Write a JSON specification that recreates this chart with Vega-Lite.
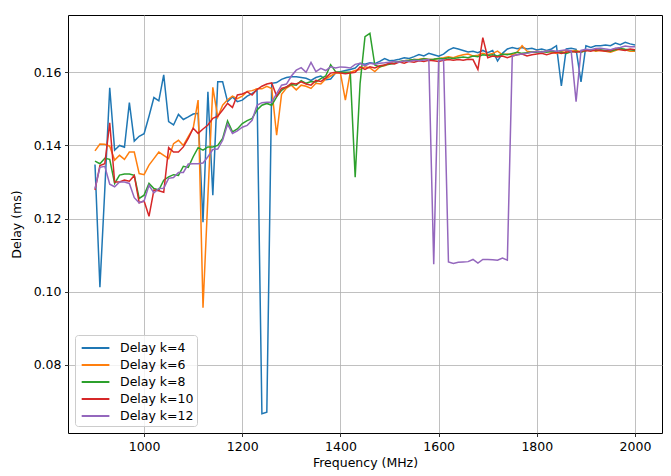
{
"$schema": "https://vega.github.io/schema/vega-lite/v6.json",
"width": 594, "height": 418,
"autosize": {"type": "none"},
"padding": {"left": 68, "top": 15, "right": 9, "bottom": 43},
"background": "white",
"config": {
  "font": "DejaVu Sans",
  "view": {"stroke": "#000000", "strokeWidth": 1},
  "axis": {"domain": false, "grid": true, "gridColor": "#b0b0b0", "gridWidth": 0.8, "tickColor": "#000000", "tickSize": 3.5, "tickWidth": 0.8, "labelPadding": 3.5, "labelFont": "DejaVu Sans", "labelFontSize": 12.5, "labelColor": "#000000", "titleFont": "DejaVu Sans", "titleFontSize": 12.5, "titleFontWeight": "normal", "titleColor": "#000000"},
  "legend": {"orient": "bottom-left", "offset": 7, "padding": 3, "strokeColor": "#cccccc", "fillColor": "rgba(255,255,255,0.8)", "cornerRadius": 3, "symbolType": "M-0.73,0L2.47,0", "symbolStrokeWidth": 2, "symbolSize": 300, "symbolFillColor": "transparent", "labelFont": "DejaVu Sans", "labelFontSize": 12.5, "labelColor": "#000000", "rowPadding": 0, "labelOffset": 22}
},
"datasets": {"d": [
{"f":900,"k":"Delay k=4","d":0.1348},{"f":910,"k":"Delay k=4","d":0.1012},{"f":920,"k":"Delay k=4","d":0.128},{"f":930,"k":"Delay k=4","d":0.1558},{"f":940,"k":"Delay k=4","d":0.1387},{"f":950,"k":"Delay k=4","d":0.14},{"f":960,"k":"Delay k=4","d":0.1395},{"f":970,"k":"Delay k=4","d":0.1517},{"f":980,"k":"Delay k=4","d":0.1412},{"f":990,"k":"Delay k=4","d":0.1425},{"f":1000,"k":"Delay k=4","d":0.1432},{"f":1010,"k":"Delay k=4","d":0.148},{"f":1020,"k":"Delay k=4","d":0.1531},{"f":1030,"k":"Delay k=4","d":0.1522},{"f":1040,"k":"Delay k=4","d":0.1593},{"f":1050,"k":"Delay k=4","d":0.1465},{"f":1060,"k":"Delay k=4","d":0.1456},{"f":1070,"k":"Delay k=4","d":0.1485},{"f":1080,"k":"Delay k=4","d":0.1471},{"f":1090,"k":"Delay k=4","d":0.1478},{"f":1100,"k":"Delay k=4","d":0.1486},{"f":1110,"k":"Delay k=4","d":0.1488},{"f":1120,"k":"Delay k=4","d":0.119},{"f":1130,"k":"Delay k=4","d":0.1547},{"f":1140,"k":"Delay k=4","d":0.1264},{"f":1150,"k":"Delay k=4","d":0.1574},{"f":1160,"k":"Delay k=4","d":0.1574},{"f":1170,"k":"Delay k=4","d":0.152},{"f":1180,"k":"Delay k=4","d":0.1533},{"f":1190,"k":"Delay k=4","d":0.152},{"f":1200,"k":"Delay k=4","d":0.1524},{"f":1210,"k":"Delay k=4","d":0.1535},{"f":1220,"k":"Delay k=4","d":0.1542},{"f":1230,"k":"Delay k=4","d":0.1552},{"f":1240,"k":"Delay k=4","d":0.0666},{"f":1250,"k":"Delay k=4","d":0.067},{"f":1260,"k":"Delay k=4","d":0.157},{"f":1270,"k":"Delay k=4","d":0.1572},{"f":1280,"k":"Delay k=4","d":0.1581},{"f":1290,"k":"Delay k=4","d":0.1586},{"f":1300,"k":"Delay k=4","d":0.1588},{"f":1310,"k":"Delay k=4","d":0.1588},{"f":1320,"k":"Delay k=4","d":0.1586},{"f":1330,"k":"Delay k=4","d":0.1584},{"f":1340,"k":"Delay k=4","d":0.1578},{"f":1350,"k":"Delay k=4","d":0.1586},{"f":1360,"k":"Delay k=4","d":0.159},{"f":1370,"k":"Delay k=4","d":0.158},{"f":1380,"k":"Delay k=4","d":0.1582},{"f":1390,"k":"Delay k=4","d":0.1598},{"f":1400,"k":"Delay k=4","d":0.1602},{"f":1410,"k":"Delay k=4","d":0.1605},{"f":1420,"k":"Delay k=4","d":0.1608},{"f":1430,"k":"Delay k=4","d":0.1612},{"f":1440,"k":"Delay k=4","d":0.1625},{"f":1450,"k":"Delay k=4","d":0.1622},{"f":1460,"k":"Delay k=4","d":0.1626},{"f":1470,"k":"Delay k=4","d":0.1624},{"f":1480,"k":"Delay k=4","d":0.163},{"f":1490,"k":"Delay k=4","d":0.1638},{"f":1500,"k":"Delay k=4","d":0.1632},{"f":1510,"k":"Delay k=4","d":0.1633},{"f":1520,"k":"Delay k=4","d":0.1636},{"f":1530,"k":"Delay k=4","d":0.164},{"f":1540,"k":"Delay k=4","d":0.1638},{"f":1550,"k":"Delay k=4","d":0.1643},{"f":1560,"k":"Delay k=4","d":0.1649},{"f":1570,"k":"Delay k=4","d":0.1645},{"f":1580,"k":"Delay k=4","d":0.1652},{"f":1590,"k":"Delay k=4","d":0.1648},{"f":1600,"k":"Delay k=4","d":0.1644},{"f":1610,"k":"Delay k=4","d":0.165},{"f":1620,"k":"Delay k=4","d":0.1661},{"f":1630,"k":"Delay k=4","d":0.1667},{"f":1640,"k":"Delay k=4","d":0.1664},{"f":1650,"k":"Delay k=4","d":0.166},{"f":1660,"k":"Delay k=4","d":0.1656},{"f":1670,"k":"Delay k=4","d":0.1658},{"f":1680,"k":"Delay k=4","d":0.1654},{"f":1690,"k":"Delay k=4","d":0.166},{"f":1700,"k":"Delay k=4","d":0.1654},{"f":1710,"k":"Delay k=4","d":0.166},{"f":1720,"k":"Delay k=4","d":0.1631},{"f":1730,"k":"Delay k=4","d":0.1652},{"f":1740,"k":"Delay k=4","d":0.1664},{"f":1750,"k":"Delay k=4","d":0.1668},{"f":1760,"k":"Delay k=4","d":0.1665},{"f":1770,"k":"Delay k=4","d":0.1668},{"f":1780,"k":"Delay k=4","d":0.1664},{"f":1790,"k":"Delay k=4","d":0.1666},{"f":1800,"k":"Delay k=4","d":0.1661},{"f":1810,"k":"Delay k=4","d":0.1664},{"f":1820,"k":"Delay k=4","d":0.166},{"f":1830,"k":"Delay k=4","d":0.1664},{"f":1840,"k":"Delay k=4","d":0.1673},{"f":1850,"k":"Delay k=4","d":0.1563},{"f":1860,"k":"Delay k=4","d":0.1664},{"f":1870,"k":"Delay k=4","d":0.1666},{"f":1880,"k":"Delay k=4","d":0.1663},{"f":1890,"k":"Delay k=4","d":0.1574},{"f":1900,"k":"Delay k=4","d":0.1673},{"f":1910,"k":"Delay k=4","d":0.1668},{"f":1920,"k":"Delay k=4","d":0.1673},{"f":1930,"k":"Delay k=4","d":0.1673},{"f":1940,"k":"Delay k=4","d":0.1675},{"f":1950,"k":"Delay k=4","d":0.1673},{"f":1960,"k":"Delay k=4","d":0.168},{"f":1970,"k":"Delay k=4","d":0.1676},{"f":1980,"k":"Delay k=4","d":0.1682},{"f":1990,"k":"Delay k=4","d":0.1678},{"f":2000,"k":"Delay k=4","d":0.1675},
{"f":900,"k":"Delay k=6","d":0.1385},{"f":910,"k":"Delay k=6","d":0.1404},{"f":920,"k":"Delay k=6","d":0.1403},{"f":930,"k":"Delay k=6","d":0.1398},{"f":940,"k":"Delay k=6","d":0.136},{"f":950,"k":"Delay k=6","d":0.1373},{"f":960,"k":"Delay k=6","d":0.1362},{"f":970,"k":"Delay k=6","d":0.1382},{"f":980,"k":"Delay k=6","d":0.1382},{"f":990,"k":"Delay k=6","d":0.1323},{"f":1000,"k":"Delay k=6","d":0.132},{"f":1010,"k":"Delay k=6","d":0.1346},{"f":1020,"k":"Delay k=6","d":0.1364},{"f":1030,"k":"Delay k=6","d":0.1382},{"f":1040,"k":"Delay k=6","d":0.1373},{"f":1050,"k":"Delay k=6","d":0.1364},{"f":1060,"k":"Delay k=6","d":0.1405},{"f":1070,"k":"Delay k=6","d":0.1414},{"f":1080,"k":"Delay k=6","d":0.14},{"f":1090,"k":"Delay k=6","d":0.1424},{"f":1100,"k":"Delay k=6","d":0.1447},{"f":1110,"k":"Delay k=6","d":0.1524},{"f":1120,"k":"Delay k=6","d":0.0956},{"f":1130,"k":"Delay k=6","d":0.126},{"f":1140,"k":"Delay k=6","d":0.1559},{"f":1150,"k":"Delay k=6","d":0.1478},{"f":1160,"k":"Delay k=6","d":0.151},{"f":1170,"k":"Delay k=6","d":0.1525},{"f":1180,"k":"Delay k=6","d":0.1535},{"f":1190,"k":"Delay k=6","d":0.1528},{"f":1200,"k":"Delay k=6","d":0.1535},{"f":1210,"k":"Delay k=6","d":0.1548},{"f":1220,"k":"Delay k=6","d":0.155},{"f":1230,"k":"Delay k=6","d":0.1555},{"f":1240,"k":"Delay k=6","d":0.1555},{"f":1250,"k":"Delay k=6","d":0.1562},{"f":1260,"k":"Delay k=6","d":0.1556},{"f":1270,"k":"Delay k=6","d":0.1428},{"f":1280,"k":"Delay k=6","d":0.154},{"f":1290,"k":"Delay k=6","d":0.1557},{"f":1300,"k":"Delay k=6","d":0.1565},{"f":1310,"k":"Delay k=6","d":0.1552},{"f":1320,"k":"Delay k=6","d":0.1565},{"f":1330,"k":"Delay k=6","d":0.1562},{"f":1340,"k":"Delay k=6","d":0.1556},{"f":1350,"k":"Delay k=6","d":0.157},{"f":1360,"k":"Delay k=6","d":0.1568},{"f":1370,"k":"Delay k=6","d":0.1582},{"f":1380,"k":"Delay k=6","d":0.159},{"f":1390,"k":"Delay k=6","d":0.1598},{"f":1400,"k":"Delay k=6","d":0.1598},{"f":1410,"k":"Delay k=6","d":0.1524},{"f":1420,"k":"Delay k=6","d":0.16},{"f":1430,"k":"Delay k=6","d":0.1605},{"f":1440,"k":"Delay k=6","d":0.1608},{"f":1450,"k":"Delay k=6","d":0.1615},{"f":1460,"k":"Delay k=6","d":0.1612},{"f":1470,"k":"Delay k=6","d":0.1602},{"f":1480,"k":"Delay k=6","d":0.1615},{"f":1490,"k":"Delay k=6","d":0.1618},{"f":1500,"k":"Delay k=6","d":0.1625},{"f":1510,"k":"Delay k=6","d":0.163},{"f":1520,"k":"Delay k=6","d":0.1628},{"f":1530,"k":"Delay k=6","d":0.1632},{"f":1540,"k":"Delay k=6","d":0.1633},{"f":1550,"k":"Delay k=6","d":0.1635},{"f":1560,"k":"Delay k=6","d":0.1636},{"f":1570,"k":"Delay k=6","d":0.1638},{"f":1580,"k":"Delay k=6","d":0.1635},{"f":1590,"k":"Delay k=6","d":0.1636},{"f":1600,"k":"Delay k=6","d":0.1638},{"f":1610,"k":"Delay k=6","d":0.164},{"f":1620,"k":"Delay k=6","d":0.1643},{"f":1630,"k":"Delay k=6","d":0.164},{"f":1640,"k":"Delay k=6","d":0.1645},{"f":1650,"k":"Delay k=6","d":0.1648},{"f":1660,"k":"Delay k=6","d":0.165},{"f":1670,"k":"Delay k=6","d":0.1645},{"f":1680,"k":"Delay k=6","d":0.1647},{"f":1690,"k":"Delay k=6","d":0.1652},{"f":1700,"k":"Delay k=6","d":0.1648},{"f":1710,"k":"Delay k=6","d":0.1652},{"f":1720,"k":"Delay k=6","d":0.1658},{"f":1730,"k":"Delay k=6","d":0.1648},{"f":1740,"k":"Delay k=6","d":0.165},{"f":1750,"k":"Delay k=6","d":0.1648},{"f":1760,"k":"Delay k=6","d":0.1655},{"f":1770,"k":"Delay k=6","d":0.1673},{"f":1780,"k":"Delay k=6","d":0.1658},{"f":1790,"k":"Delay k=6","d":0.1655},{"f":1800,"k":"Delay k=6","d":0.1658},{"f":1810,"k":"Delay k=6","d":0.1656},{"f":1820,"k":"Delay k=6","d":0.1658},{"f":1830,"k":"Delay k=6","d":0.1655},{"f":1840,"k":"Delay k=6","d":0.1652},{"f":1850,"k":"Delay k=6","d":0.1658},{"f":1860,"k":"Delay k=6","d":0.166},{"f":1870,"k":"Delay k=6","d":0.1658},{"f":1880,"k":"Delay k=6","d":0.166},{"f":1890,"k":"Delay k=6","d":0.1656},{"f":1900,"k":"Delay k=6","d":0.166},{"f":1910,"k":"Delay k=6","d":0.1662},{"f":1920,"k":"Delay k=6","d":0.1658},{"f":1930,"k":"Delay k=6","d":0.166},{"f":1940,"k":"Delay k=6","d":0.1658},{"f":1950,"k":"Delay k=6","d":0.1655},{"f":1960,"k":"Delay k=6","d":0.166},{"f":1970,"k":"Delay k=6","d":0.1664},{"f":1980,"k":"Delay k=6","d":0.1662},{"f":1990,"k":"Delay k=6","d":0.1658},{"f":2000,"k":"Delay k=6","d":0.1658},
{"f":900,"k":"Delay k=8","d":0.1357},{"f":910,"k":"Delay k=8","d":0.135},{"f":920,"k":"Delay k=8","d":0.1365},{"f":930,"k":"Delay k=8","d":0.1362},{"f":940,"k":"Delay k=8","d":0.1296},{"f":950,"k":"Delay k=8","d":0.1319},{"f":960,"k":"Delay k=8","d":0.1322},{"f":970,"k":"Delay k=8","d":0.1322},{"f":980,"k":"Delay k=8","d":0.1318},{"f":990,"k":"Delay k=8","d":0.1255},{"f":1000,"k":"Delay k=8","d":0.1264},{"f":1010,"k":"Delay k=8","d":0.1296},{"f":1020,"k":"Delay k=8","d":0.1282},{"f":1030,"k":"Delay k=8","d":0.1278},{"f":1040,"k":"Delay k=8","d":0.1305},{"f":1050,"k":"Delay k=8","d":0.1314},{"f":1060,"k":"Delay k=8","d":0.132},{"f":1070,"k":"Delay k=8","d":0.1318},{"f":1080,"k":"Delay k=8","d":0.1343},{"f":1090,"k":"Delay k=8","d":0.134},{"f":1100,"k":"Delay k=8","d":0.1369},{"f":1110,"k":"Delay k=8","d":0.1394},{"f":1120,"k":"Delay k=8","d":0.1387},{"f":1130,"k":"Delay k=8","d":0.1396},{"f":1140,"k":"Delay k=8","d":0.1396},{"f":1150,"k":"Delay k=8","d":0.14},{"f":1160,"k":"Delay k=8","d":0.1419},{"f":1170,"k":"Delay k=8","d":0.1467},{"f":1180,"k":"Delay k=8","d":0.1437},{"f":1190,"k":"Delay k=8","d":0.1445},{"f":1200,"k":"Delay k=8","d":0.146},{"f":1210,"k":"Delay k=8","d":0.1468},{"f":1220,"k":"Delay k=8","d":0.1474},{"f":1230,"k":"Delay k=8","d":0.1497},{"f":1240,"k":"Delay k=8","d":0.151},{"f":1250,"k":"Delay k=8","d":0.1515},{"f":1260,"k":"Delay k=8","d":0.151},{"f":1270,"k":"Delay k=8","d":0.1533},{"f":1280,"k":"Delay k=8","d":0.1551},{"f":1290,"k":"Delay k=8","d":0.156},{"f":1300,"k":"Delay k=8","d":0.1567},{"f":1310,"k":"Delay k=8","d":0.1565},{"f":1320,"k":"Delay k=8","d":0.1577},{"f":1330,"k":"Delay k=8","d":0.157},{"f":1340,"k":"Delay k=8","d":0.1575},{"f":1350,"k":"Delay k=8","d":0.1574},{"f":1360,"k":"Delay k=8","d":0.1583},{"f":1370,"k":"Delay k=8","d":0.159},{"f":1380,"k":"Delay k=8","d":0.1621},{"f":1390,"k":"Delay k=8","d":0.1602},{"f":1400,"k":"Delay k=8","d":0.16},{"f":1410,"k":"Delay k=8","d":0.16},{"f":1420,"k":"Delay k=8","d":0.16},{"f":1430,"k":"Delay k=8","d":0.1313},{"f":1440,"k":"Delay k=8","d":0.157},{"f":1450,"k":"Delay k=8","d":0.1698},{"f":1460,"k":"Delay k=8","d":0.1707},{"f":1470,"k":"Delay k=8","d":0.162},{"f":1480,"k":"Delay k=8","d":0.1615},{"f":1490,"k":"Delay k=8","d":0.162},{"f":1500,"k":"Delay k=8","d":0.1622},{"f":1510,"k":"Delay k=8","d":0.1625},{"f":1520,"k":"Delay k=8","d":0.163},{"f":1530,"k":"Delay k=8","d":0.1632},{"f":1540,"k":"Delay k=8","d":0.1633},{"f":1550,"k":"Delay k=8","d":0.1635},{"f":1560,"k":"Delay k=8","d":0.1634},{"f":1570,"k":"Delay k=8","d":0.1637},{"f":1580,"k":"Delay k=8","d":0.1635},{"f":1590,"k":"Delay k=8","d":0.1636},{"f":1600,"k":"Delay k=8","d":0.1638},{"f":1610,"k":"Delay k=8","d":0.1637},{"f":1620,"k":"Delay k=8","d":0.164},{"f":1630,"k":"Delay k=8","d":0.1638},{"f":1640,"k":"Delay k=8","d":0.164},{"f":1650,"k":"Delay k=8","d":0.1642},{"f":1660,"k":"Delay k=8","d":0.164},{"f":1670,"k":"Delay k=8","d":0.1645},{"f":1680,"k":"Delay k=8","d":0.1643},{"f":1690,"k":"Delay k=8","d":0.1648},{"f":1700,"k":"Delay k=8","d":0.1646},{"f":1710,"k":"Delay k=8","d":0.1648},{"f":1720,"k":"Delay k=8","d":0.1645},{"f":1730,"k":"Delay k=8","d":0.165},{"f":1740,"k":"Delay k=8","d":0.1648},{"f":1750,"k":"Delay k=8","d":0.1652},{"f":1760,"k":"Delay k=8","d":0.1655},{"f":1770,"k":"Delay k=8","d":0.1652},{"f":1780,"k":"Delay k=8","d":0.1654},{"f":1790,"k":"Delay k=8","d":0.1656},{"f":1800,"k":"Delay k=8","d":0.1655},{"f":1810,"k":"Delay k=8","d":0.1657},{"f":1820,"k":"Delay k=8","d":0.1655},{"f":1830,"k":"Delay k=8","d":0.1658},{"f":1840,"k":"Delay k=8","d":0.1656},{"f":1850,"k":"Delay k=8","d":0.1655},{"f":1860,"k":"Delay k=8","d":0.1652},{"f":1870,"k":"Delay k=8","d":0.1656},{"f":1880,"k":"Delay k=8","d":0.1658},{"f":1890,"k":"Delay k=8","d":0.1655},{"f":1900,"k":"Delay k=8","d":0.166},{"f":1910,"k":"Delay k=8","d":0.1662},{"f":1920,"k":"Delay k=8","d":0.166},{"f":1930,"k":"Delay k=8","d":0.1662},{"f":1940,"k":"Delay k=8","d":0.166},{"f":1950,"k":"Delay k=8","d":0.1658},{"f":1960,"k":"Delay k=8","d":0.1662},{"f":1970,"k":"Delay k=8","d":0.1665},{"f":1980,"k":"Delay k=8","d":0.1663},{"f":1990,"k":"Delay k=8","d":0.1662},{"f":2000,"k":"Delay k=8","d":0.166},
{"f":900,"k":"Delay k=10","d":0.1278},{"f":910,"k":"Delay k=10","d":0.1345},{"f":920,"k":"Delay k=10","d":0.135},{"f":930,"k":"Delay k=10","d":0.1462},{"f":940,"k":"Delay k=10","d":0.13},{"f":950,"k":"Delay k=10","d":0.13},{"f":960,"k":"Delay k=10","d":0.1305},{"f":970,"k":"Delay k=10","d":0.1302},{"f":980,"k":"Delay k=10","d":0.1318},{"f":990,"k":"Delay k=10","d":0.1243},{"f":1000,"k":"Delay k=10","d":0.1248},{"f":1010,"k":"Delay k=10","d":0.1206},{"f":1020,"k":"Delay k=10","d":0.1278},{"f":1030,"k":"Delay k=10","d":0.1276},{"f":1040,"k":"Delay k=10","d":0.1272},{"f":1050,"k":"Delay k=10","d":0.1394},{"f":1060,"k":"Delay k=10","d":0.1382},{"f":1070,"k":"Delay k=10","d":0.1382},{"f":1080,"k":"Delay k=10","d":0.1396},{"f":1090,"k":"Delay k=10","d":0.1419},{"f":1100,"k":"Delay k=10","d":0.1447},{"f":1110,"k":"Delay k=10","d":0.1433},{"f":1120,"k":"Delay k=10","d":0.1445},{"f":1130,"k":"Delay k=10","d":0.1456},{"f":1140,"k":"Delay k=10","d":0.1474},{"f":1150,"k":"Delay k=10","d":0.148},{"f":1160,"k":"Delay k=10","d":0.1497},{"f":1170,"k":"Delay k=10","d":0.1515},{"f":1180,"k":"Delay k=10","d":0.1504},{"f":1190,"k":"Delay k=10","d":0.1538},{"f":1200,"k":"Delay k=10","d":0.1541},{"f":1210,"k":"Delay k=10","d":0.1547},{"f":1220,"k":"Delay k=10","d":0.1538},{"f":1230,"k":"Delay k=10","d":0.1553},{"f":1240,"k":"Delay k=10","d":0.1562},{"f":1250,"k":"Delay k=10","d":0.1568},{"f":1260,"k":"Delay k=10","d":0.1571},{"f":1270,"k":"Delay k=10","d":0.1535},{"f":1280,"k":"Delay k=10","d":0.1556},{"f":1290,"k":"Delay k=10","d":0.156},{"f":1300,"k":"Delay k=10","d":0.157},{"f":1310,"k":"Delay k=10","d":0.1568},{"f":1320,"k":"Delay k=10","d":0.1574},{"f":1330,"k":"Delay k=10","d":0.1568},{"f":1340,"k":"Delay k=10","d":0.1565},{"f":1350,"k":"Delay k=10","d":0.1578},{"f":1360,"k":"Delay k=10","d":0.1575},{"f":1370,"k":"Delay k=10","d":0.1585},{"f":1380,"k":"Delay k=10","d":0.1598},{"f":1390,"k":"Delay k=10","d":0.16},{"f":1400,"k":"Delay k=10","d":0.1598},{"f":1410,"k":"Delay k=10","d":0.1596},{"f":1420,"k":"Delay k=10","d":0.1598},{"f":1430,"k":"Delay k=10","d":0.16},{"f":1440,"k":"Delay k=10","d":0.1615},{"f":1450,"k":"Delay k=10","d":0.1608},{"f":1460,"k":"Delay k=10","d":0.1615},{"f":1470,"k":"Delay k=10","d":0.1612},{"f":1480,"k":"Delay k=10","d":0.1618},{"f":1490,"k":"Delay k=10","d":0.162},{"f":1500,"k":"Delay k=10","d":0.1625},{"f":1510,"k":"Delay k=10","d":0.1623},{"f":1520,"k":"Delay k=10","d":0.1628},{"f":1530,"k":"Delay k=10","d":0.1625},{"f":1540,"k":"Delay k=10","d":0.163},{"f":1550,"k":"Delay k=10","d":0.1628},{"f":1560,"k":"Delay k=10","d":0.1632},{"f":1570,"k":"Delay k=10","d":0.163},{"f":1580,"k":"Delay k=10","d":0.1633},{"f":1590,"k":"Delay k=10","d":0.1632},{"f":1600,"k":"Delay k=10","d":0.163},{"f":1610,"k":"Delay k=10","d":0.1633},{"f":1620,"k":"Delay k=10","d":0.1635},{"f":1630,"k":"Delay k=10","d":0.1633},{"f":1640,"k":"Delay k=10","d":0.1635},{"f":1650,"k":"Delay k=10","d":0.1633},{"f":1660,"k":"Delay k=10","d":0.1636},{"f":1670,"k":"Delay k=10","d":0.1635},{"f":1680,"k":"Delay k=10","d":0.1608},{"f":1690,"k":"Delay k=10","d":0.1695},{"f":1700,"k":"Delay k=10","d":0.164},{"f":1710,"k":"Delay k=10","d":0.1645},{"f":1720,"k":"Delay k=10","d":0.1642},{"f":1730,"k":"Delay k=10","d":0.1645},{"f":1740,"k":"Delay k=10","d":0.164},{"f":1750,"k":"Delay k=10","d":0.1645},{"f":1760,"k":"Delay k=10","d":0.1648},{"f":1770,"k":"Delay k=10","d":0.165},{"f":1780,"k":"Delay k=10","d":0.1645},{"f":1790,"k":"Delay k=10","d":0.1648},{"f":1800,"k":"Delay k=10","d":0.165},{"f":1810,"k":"Delay k=10","d":0.1652},{"f":1820,"k":"Delay k=10","d":0.1648},{"f":1830,"k":"Delay k=10","d":0.1652},{"f":1840,"k":"Delay k=10","d":0.1655},{"f":1850,"k":"Delay k=10","d":0.1652},{"f":1860,"k":"Delay k=10","d":0.1655},{"f":1870,"k":"Delay k=10","d":0.1658},{"f":1880,"k":"Delay k=10","d":0.1655},{"f":1890,"k":"Delay k=10","d":0.1658},{"f":1900,"k":"Delay k=10","d":0.166},{"f":1910,"k":"Delay k=10","d":0.1658},{"f":1920,"k":"Delay k=10","d":0.1662},{"f":1930,"k":"Delay k=10","d":0.166},{"f":1940,"k":"Delay k=10","d":0.1658},{"f":1950,"k":"Delay k=10","d":0.166},{"f":1960,"k":"Delay k=10","d":0.1665},{"f":1970,"k":"Delay k=10","d":0.1662},{"f":1980,"k":"Delay k=10","d":0.166},{"f":1990,"k":"Delay k=10","d":0.1664},{"f":2000,"k":"Delay k=10","d":0.1662},
{"f":900,"k":"Delay k=12","d":0.1282},{"f":910,"k":"Delay k=12","d":0.134},{"f":920,"k":"Delay k=12","d":0.1343},{"f":930,"k":"Delay k=12","d":0.1294},{"f":940,"k":"Delay k=12","d":0.1287},{"f":950,"k":"Delay k=12","d":0.13},{"f":960,"k":"Delay k=12","d":0.13},{"f":970,"k":"Delay k=12","d":0.1296},{"f":980,"k":"Delay k=12","d":0.1257},{"f":990,"k":"Delay k=12","d":0.1243},{"f":1000,"k":"Delay k=12","d":0.1248},{"f":1010,"k":"Delay k=12","d":0.1291},{"f":1020,"k":"Delay k=12","d":0.127},{"f":1030,"k":"Delay k=12","d":0.1282},{"f":1040,"k":"Delay k=12","d":0.1283},{"f":1050,"k":"Delay k=12","d":0.131},{"f":1060,"k":"Delay k=12","d":0.1312},{"f":1070,"k":"Delay k=12","d":0.1326},{"f":1080,"k":"Delay k=12","d":0.1326},{"f":1090,"k":"Delay k=12","d":0.1349},{"f":1100,"k":"Delay k=12","d":0.135},{"f":1110,"k":"Delay k=12","d":0.135},{"f":1120,"k":"Delay k=12","d":0.1352},{"f":1130,"k":"Delay k=12","d":0.1369},{"f":1140,"k":"Delay k=12","d":0.1389},{"f":1150,"k":"Delay k=12","d":0.139},{"f":1160,"k":"Delay k=12","d":0.1414},{"f":1170,"k":"Delay k=12","d":0.1458},{"f":1180,"k":"Delay k=12","d":0.1433},{"f":1190,"k":"Delay k=12","d":0.144},{"f":1200,"k":"Delay k=12","d":0.145},{"f":1210,"k":"Delay k=12","d":0.1455},{"f":1220,"k":"Delay k=12","d":0.1469},{"f":1230,"k":"Delay k=12","d":0.151},{"f":1240,"k":"Delay k=12","d":0.1517},{"f":1250,"k":"Delay k=12","d":0.1518},{"f":1260,"k":"Delay k=12","d":0.1518},{"f":1270,"k":"Delay k=12","d":0.1542},{"f":1280,"k":"Delay k=12","d":0.1565},{"f":1290,"k":"Delay k=12","d":0.1568},{"f":1300,"k":"Delay k=12","d":0.159},{"f":1310,"k":"Delay k=12","d":0.1606},{"f":1320,"k":"Delay k=12","d":0.1613},{"f":1330,"k":"Delay k=12","d":0.16},{"f":1340,"k":"Delay k=12","d":0.1627},{"f":1350,"k":"Delay k=12","d":0.1602},{"f":1360,"k":"Delay k=12","d":0.1611},{"f":1370,"k":"Delay k=12","d":0.1605},{"f":1380,"k":"Delay k=12","d":0.1615},{"f":1390,"k":"Delay k=12","d":0.1612},{"f":1400,"k":"Delay k=12","d":0.1615},{"f":1410,"k":"Delay k=12","d":0.1614},{"f":1420,"k":"Delay k=12","d":0.1612},{"f":1430,"k":"Delay k=12","d":0.1622},{"f":1440,"k":"Delay k=12","d":0.1625},{"f":1450,"k":"Delay k=12","d":0.1618},{"f":1460,"k":"Delay k=12","d":0.1625},{"f":1470,"k":"Delay k=12","d":0.1622},{"f":1480,"k":"Delay k=12","d":0.1625},{"f":1490,"k":"Delay k=12","d":0.1626},{"f":1500,"k":"Delay k=12","d":0.1628},{"f":1510,"k":"Delay k=12","d":0.163},{"f":1520,"k":"Delay k=12","d":0.1628},{"f":1530,"k":"Delay k=12","d":0.1632},{"f":1540,"k":"Delay k=12","d":0.163},{"f":1550,"k":"Delay k=12","d":0.1633},{"f":1560,"k":"Delay k=12","d":0.1632},{"f":1570,"k":"Delay k=12","d":0.1634},{"f":1580,"k":"Delay k=12","d":0.1635},{"f":1590,"k":"Delay k=12","d":0.1075},{"f":1600,"k":"Delay k=12","d":0.1632},{"f":1610,"k":"Delay k=12","d":0.1635},{"f":1620,"k":"Delay k=12","d":0.1081},{"f":1630,"k":"Delay k=12","d":0.1077},{"f":1640,"k":"Delay k=12","d":0.108},{"f":1650,"k":"Delay k=12","d":0.1081},{"f":1660,"k":"Delay k=12","d":0.1082},{"f":1670,"k":"Delay k=12","d":0.1088},{"f":1680,"k":"Delay k=12","d":0.1078},{"f":1690,"k":"Delay k=12","d":0.1088},{"f":1700,"k":"Delay k=12","d":0.1088},{"f":1710,"k":"Delay k=12","d":0.1087},{"f":1720,"k":"Delay k=12","d":0.1086},{"f":1730,"k":"Delay k=12","d":0.1092},{"f":1740,"k":"Delay k=12","d":0.1086},{"f":1750,"k":"Delay k=12","d":0.1645},{"f":1760,"k":"Delay k=12","d":0.1648},{"f":1770,"k":"Delay k=12","d":0.165},{"f":1780,"k":"Delay k=12","d":0.1652},{"f":1790,"k":"Delay k=12","d":0.1655},{"f":1800,"k":"Delay k=12","d":0.1657},{"f":1810,"k":"Delay k=12","d":0.1656},{"f":1820,"k":"Delay k=12","d":0.1658},{"f":1830,"k":"Delay k=12","d":0.166},{"f":1840,"k":"Delay k=12","d":0.1658},{"f":1850,"k":"Delay k=12","d":0.166},{"f":1860,"k":"Delay k=12","d":0.1662},{"f":1870,"k":"Delay k=12","d":0.1658},{"f":1880,"k":"Delay k=12","d":0.152},{"f":1890,"k":"Delay k=12","d":0.166},{"f":1900,"k":"Delay k=12","d":0.1663},{"f":1910,"k":"Delay k=12","d":0.1662},{"f":1920,"k":"Delay k=12","d":0.1665},{"f":1930,"k":"Delay k=12","d":0.1666},{"f":1940,"k":"Delay k=12","d":0.1664},{"f":1950,"k":"Delay k=12","d":0.1662},{"f":1960,"k":"Delay k=12","d":0.1666},{"f":1970,"k":"Delay k=12","d":0.1668},{"f":1980,"k":"Delay k=12","d":0.1672},{"f":1990,"k":"Delay k=12","d":0.167},{"f":2000,"k":"Delay k=12","d":0.167}
]},
"data": {"name": "d"},
"mark": {"type": "line", "strokeWidth": 1.5, "clip": true},
"encoding": {
  "x": {"field": "f", "type": "quantitative", "title": "Frequency (MHz)", "scale": {"domain": [845, 2055], "nice": false, "zero": false}, "axis": {"values": [1000, 1200, 1400, 1600, 1800, 2000], "format": "d", "titlePadding": 4}},
  "y": {"field": "d", "type": "quantitative", "title": "Delay (ms)", "scale": {"domain": [0.0613, 0.1757], "nice": false, "zero": false}, "axis": {"values": [0.08, 0.10, 0.12, 0.14, 0.16], "format": ".2f", "titlePadding": 10}},
  "color": {"field": "k", "type": "nominal", "title": null, "sort": null, "scale": {"domain": ["Delay k=4", "Delay k=6", "Delay k=8", "Delay k=10", "Delay k=12"], "range": ["#1f77b4", "#ff7f0e", "#2ca02c", "#d62728", "#9467bd"]}},
  "order": {"field": "f", "type": "quantitative"}
}
}
